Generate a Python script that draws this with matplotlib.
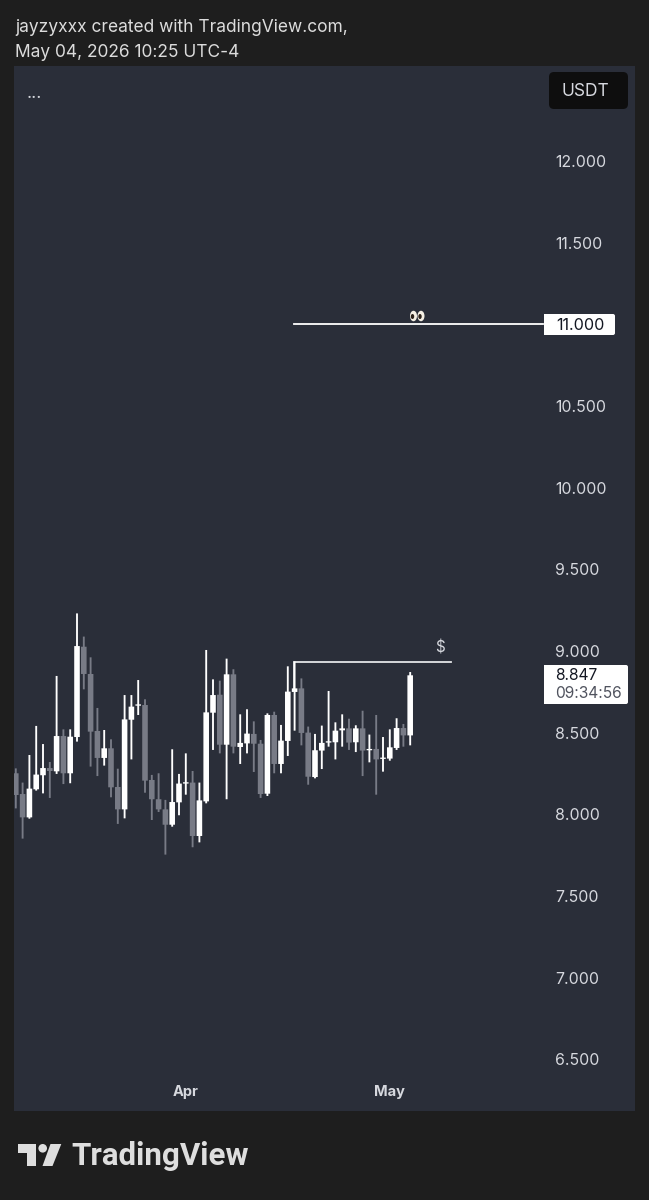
import matplotlib
matplotlib.use("Agg")
import matplotlib.pyplot as plt
from matplotlib.patches import Circle, Ellipse, FancyBboxPatch, Polygon

W, H = 649, 1200
BG = "#1e1e1e"
PANEL = "#2a2e39"
TEXT = "#d6d8de"
GRAY = "#787b86"

plt.rcParams["font.family"] = ["Inter", "DejaVu Sans"]

opens = [8.251, 8.124, 7.981, 8.153, 8.239, 8.283, 8.263, 8.479, 8.251, 8.473,
         9.026, 8.859, 8.510, 8.345, 8.404, 8.167, 8.030, 8.579, 8.665, 8.669,
         8.210, 8.092, 8.030, 7.936, 8.073, 8.188, 8.194, 7.867, 8.079, 8.622,
         8.732, 8.426, 8.857, 8.412, 8.434, 8.492, 8.432, 8.126, 8.608, 8.308,
         8.449, 8.749, 8.771, 8.500, 8.228, 8.390, 8.439, 8.441, 8.514, 8.526,
         8.441, 8.526, 8.392, 8.400, 8.339, 8.341, 8.406, 8.528, 8.483]
closes = [8.118, 7.981, 8.157, 8.243, 8.283, 8.265, 8.479, 8.251, 8.475, 9.030,
          8.859, 8.506, 8.345, 8.404, 8.165, 8.030, 8.581, 8.659, 8.673, 8.206,
          8.092, 8.030, 7.936, 8.075, 8.188, 8.196, 7.867, 8.085, 8.624, 8.730,
          8.426, 8.857, 8.414, 8.437, 8.494, 8.432, 8.124, 8.608, 8.308, 8.451,
          8.751, 8.771, 8.498, 8.230, 8.392, 8.437, 8.447, 8.512, 8.526, 8.439,
          8.526, 8.390, 8.400, 8.336, 8.347, 8.410, 8.528, 8.483, 8.851]
highs = [8.281, 8.194, 8.363, 8.541, 8.430, 8.320, 8.847, 8.520, 8.520, 9.230,
         9.088, 8.961, 8.651, 8.516, 8.459, 8.279, 8.730, 8.730, 8.822, 8.704,
         8.241, 8.251, 8.088, 8.398, 8.247, 8.373, 8.265, 8.194, 9.006, 8.826,
         8.818, 8.953, 8.888, 8.612, 8.643, 8.569, 8.455, 8.618, 8.628, 8.547,
         8.906, 8.936, 8.832, 8.537, 8.492, 8.543, 8.755, 8.563, 8.612, 8.585,
         8.545, 8.634, 8.488, 8.608, 8.473, 8.520, 8.588, 8.553, 8.871]
lows = [8.036, 7.851, 7.973, 8.145, 8.128, 8.100, 8.247, 8.185, 8.190, 8.445,
        8.765, 8.292, 8.234, 8.298, 8.104, 7.941, 7.975, 8.336, 8.608, 8.132,
        7.965, 8.014, 7.753, 7.924, 7.994, 8.120, 7.798, 7.828, 8.067, 8.394,
        8.373, 8.092, 8.373, 8.308, 8.373, 8.259, 8.100, 8.112, 8.251, 8.251,
        8.357, 8.512, 8.422, 8.181, 8.220, 8.277, 8.414, 8.336, 8.414, 8.394,
        8.381, 8.234, 8.318, 8.120, 8.261, 8.328, 8.394, 8.414, 8.422]

y_ticks = [6.5, 7.0, 7.5, 8.0, 8.5, 9.0, 9.5, 10.0, 10.5, 11.5, 12.0]
y_labels = ["6.500", "7.000", "7.500", "8.000", "8.500", "9.000", "9.500",
            "10.000", "10.500", "11.500", "12.000"]
month_pos = [25, 55]
month_labels = ["Apr", "May"]

target_price = 11.0
target_start = 40.9
target_end = 77.6
level_price = 8.933
level_start = 40.95
level_end = 64
last_price = "8.847"
countdown = "09:34:56"

fig = plt.figure(figsize=(W / 100, H / 100), dpi=100, facecolor=BG)

# chart panel, spans px 14-635 and 66-1111
ax = fig.add_axes([14 / W, 1 - 1111 / H, 621 / W, 1045 / H], facecolor=PANEL)
ax.set_xlim(-0.265, 91.06)
ax.set_ylim(6.183, 12.582)
for s in ax.spines.values():
    s.set_visible(False)

xs = list(range(len(opens)))
colors = ["white" if c >= o else GRAY for o, c in zip(opens, closes)]
wicks = ax.vlines(xs, lows, highs, colors=colors, linewidth=1.35, zorder=3)
wicks.set_snap(False)
bottoms = [min(o, c) for o, c in zip(opens, closes)]
heights = [abs(c - o) for o, c in zip(opens, closes)]
bars = ax.bar(xs, heights, bottom=bottoms, width=0.82, color=colors, linewidth=0, zorder=4)
for b in bars:
    b.set_snap(False)

ax.plot([target_start, target_end], [target_price, target_price], color="white", lw=1.3, zorder=5)
ax.plot([level_start, level_start, level_end], [highs[41] - 0.17, level_price, level_price],
        color="#e4e5e8", lw=1.3, zorder=2, solid_joinstyle="miter")
ax.text(62.4, 8.975, "$", color=TEXT, fontsize=11, ha="center", va="bottom")

ax.yaxis.tick_right()
ax.set_yticks(y_ticks, y_labels)
ax.tick_params(axis="y", length=0, pad=-57.5, labelsize=11.4, labelcolor=TEXT)
ax.set_xticks(month_pos, month_labels)
ax.tick_params(axis="x", length=0, pad=-19, labelsize=10.5, labelcolor=TEXT)
for t in ax.get_xticklabels():
    t.set_fontweight("bold")
    t.set_x(t.get_position()[0])

# everything around the plot, in pixel coordinates
ov = fig.add_axes([0, 0, 1, 1], facecolor="none")
ov.set_xlim(0, W)
ov.set_ylim(H, 0)
ov.axis("off")

ov.text(15, 28, "jayzyxxx created with TradingView.com,", color="#dcdcdc", fontsize=12.5, va="center")
ov.text(15, 52.5, "May 04, 2026 10:25 UTC-4", color="#dcdcdc", fontsize=12.5, va="center")
ov.text(27, 93, "...", color=TEXT, fontsize=13, va="center")

ov.add_patch(FancyBboxPatch((552, 75), 73, 31, boxstyle="round,pad=3,rounding_size=5", fc="#0e0e0e", ec="none"))
ov.text(585.5, 91, "USDT", color=TEXT, fontsize=12.5, ha="center", va="center")

ov.add_patch(FancyBboxPatch((546, 316), 67, 17, boxstyle="round,pad=2,rounding_size=2", fc="white", ec="none"))
ov.add_patch(Polygon([(544, 314), (550, 314), (550, 335), (544, 335)], fc="white", ec="none"))
ov.text(556, 325, "11.000", color="#131722", fontsize=11.6, va="center")

ov.add_patch(FancyBboxPatch((546, 667), 80, 35, boxstyle="round,pad=2,rounding_size=2", fc="white", ec="none"))
ov.add_patch(Polygon([(544, 665), (550, 665), (550, 704), (544, 704)], fc="white", ec="none"))
ov.text(555.5, 676, last_price, color="#131722", fontsize=11.2, va="center")
ov.text(555.5, 693, countdown, color="#50535e", fontsize=11.2, va="center")

# eyes
for ex, px_ in [(413.5, 412.5), (421, 420)]:
    ov.add_patch(Ellipse((ex, 316), 7, 10.5, fc="#f4efe4", ec="none", zorder=6))
    ov.add_patch(Ellipse((px_, 316.5), 3.4, 5, fc="#2b2119", ec="none", zorder=7))

# logo
LOGO = "#dedede"
ov.add_patch(Polygon([(17.5, 1144), (36, 1144), (36, 1166), (26.5, 1166), (26.5, 1152.7), (17.5, 1152.7)], fc=LOGO, ec="none"))
ov.add_patch(Circle((42.7, 1148.3), 4.3, fc=LOGO, ec="none"))
ov.add_patch(Polygon([(50.5, 1144), (61.3, 1144), (52.5, 1166), (42.5, 1166)], fc=LOGO, ec="none"))
ov.text(71.5, 1156, "TradingView", color=LOGO, fontsize=22.5, fontweight="bold",
        family=["Roboto", "DejaVu Sans"], va="center")

fig.savefig("out.png", dpi=100, facecolor=BG)
